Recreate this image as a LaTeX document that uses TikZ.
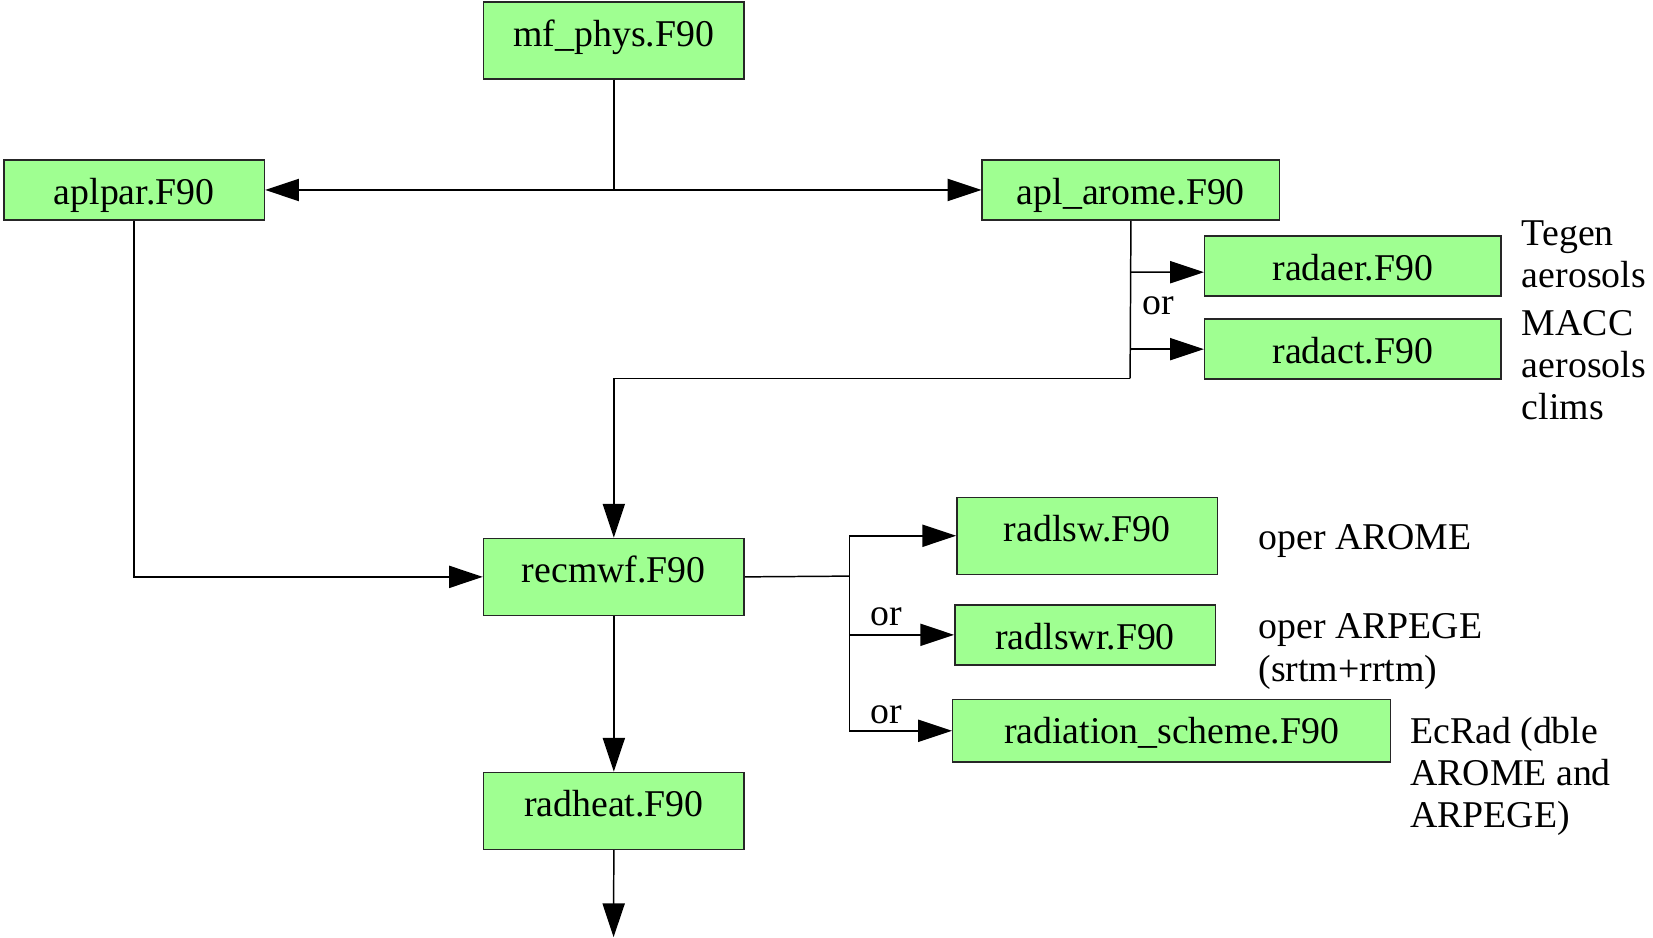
\documentclass[tikz,border=0pt]{standalone}
\usepackage{fontspec}
\setmainfont{Liberation Serif}
\usepackage{tikz}
\usetikzlibrary{arrows.meta,positioning}
\definecolor{Boxgreen}{HTML}{9FFF91}
\tikzstyle{box} = [
    draw=black!85,
    fill=Boxgreen,
    line width=0.4pt,
    anchor=north west,
    inner xsep=0pt,
    inner ysep=0pt,
    text height=0.42cm,
    text depth=0.15cm
]
\tikzstyle{tallbox} = [
    box,
    text depth=0.31cm
]
\tikzstyle{flow} = [
    line width=0.4pt,
    -{Triangle[length=0.32cm,width=0.21cm]}
]
\tikzstyle{note} = [
    anchor=base west,
    inner sep=0pt,
    align=left
]

\begin{document}
\begin{tikzpicture}[x=0.01cm,y=-0.01cm,font=\fontsize{10.2}{11.4}\selectfont]
    \useasboundingbox (0,0) rectangle (1568,889);
    % Boxes
    \node[tallbox, minimum width=2.47cm] (phys) at (458,1) {mf\_phys.F90};
    \node[box, minimum width=2.47cm] (aplpar) at (3,151) {aplpar.F90};
    \node[box, minimum width=2.82cm] (arome) at (931,151) {apl\_arome.F90};
    \node[box, minimum width=2.81cm] (radaer) at (1142,223) {radaer.F90};
    \node[box, minimum width=2.81cm] (radact) at (1142,302) {radact.F90};
    \node[tallbox, minimum width=2.47cm] (recmwf) at (458,510) {recmwf.F90};
    \node[tallbox, minimum width=2.47cm] (radheat) at (458,732) {radheat.F90};
    \node[tallbox, minimum width=2.47cm] (radlsw) at (907,471) {radlsw.F90};
    \node[box, minimum width=2.47cm] (radlswr) at (905,573) {radlswr.F90};
    \node[box, minimum width=4.15cm, text depth=0.17cm] (scheme) at (903,663) {radiation\_scheme.F90};
    % Call flow
    \coordinate (aromeknee) at (1072,359);
    \coordinate (split) at (806,546.5);
    \coordinate (out) at (582,889);
    \draw[flow] (phys.south) |- (aplpar.east);
    \draw[flow] (phys.south) |- (arome.west);
    \draw[line width=0.4pt] (arome.south) -- (aromeknee);
    \draw[flow] (aromeknee) -| (recmwf.north);
    \draw[flow] (arome.south |- radaer.west) ++(0,6) -- ([yshift=-0.06cm]radaer.west);
    \draw[flow] (arome.south |- radact.west) -- (radact.west);
    \draw[flow] (aplpar.south) |- (recmwf.west);
    \draw[line width=0.4pt] (recmwf.east) -- (split);
    \draw[flow] (split) |- (radlsw.west);
    \draw[flow] (split) |- (radlswr.west);
    \draw[flow] (split) |- (scheme.west);
    \draw[flow] (recmwf.south) -- (radheat.north);
    \draw[flow] (radheat.south) -- (out);
    % Labels (base = last line)
    \node[note] (or1) at (1083,298) {or};
    \node[note] (or2) at (825,593) {or};
    \node[note] (or3) at (825,686) {or};
    \node[note] (tegen) at (1443,273) {Tegen\\aerosols};
    \node[note] (macc) at (1443,398) {MACC\\aerosols\\clims};
    \node[note] (arometxt) at (1193,521) {oper AROME};
    \node[note] (arpegetxt) at (1193,646) {oper ARPEGE\\(srtm+rrtm)};
    \node[note] (ecradtxt) at (1337,785) {EcRad (dble\\AROME and\\ARPEGE)};
\end{tikzpicture}
\end{document}
